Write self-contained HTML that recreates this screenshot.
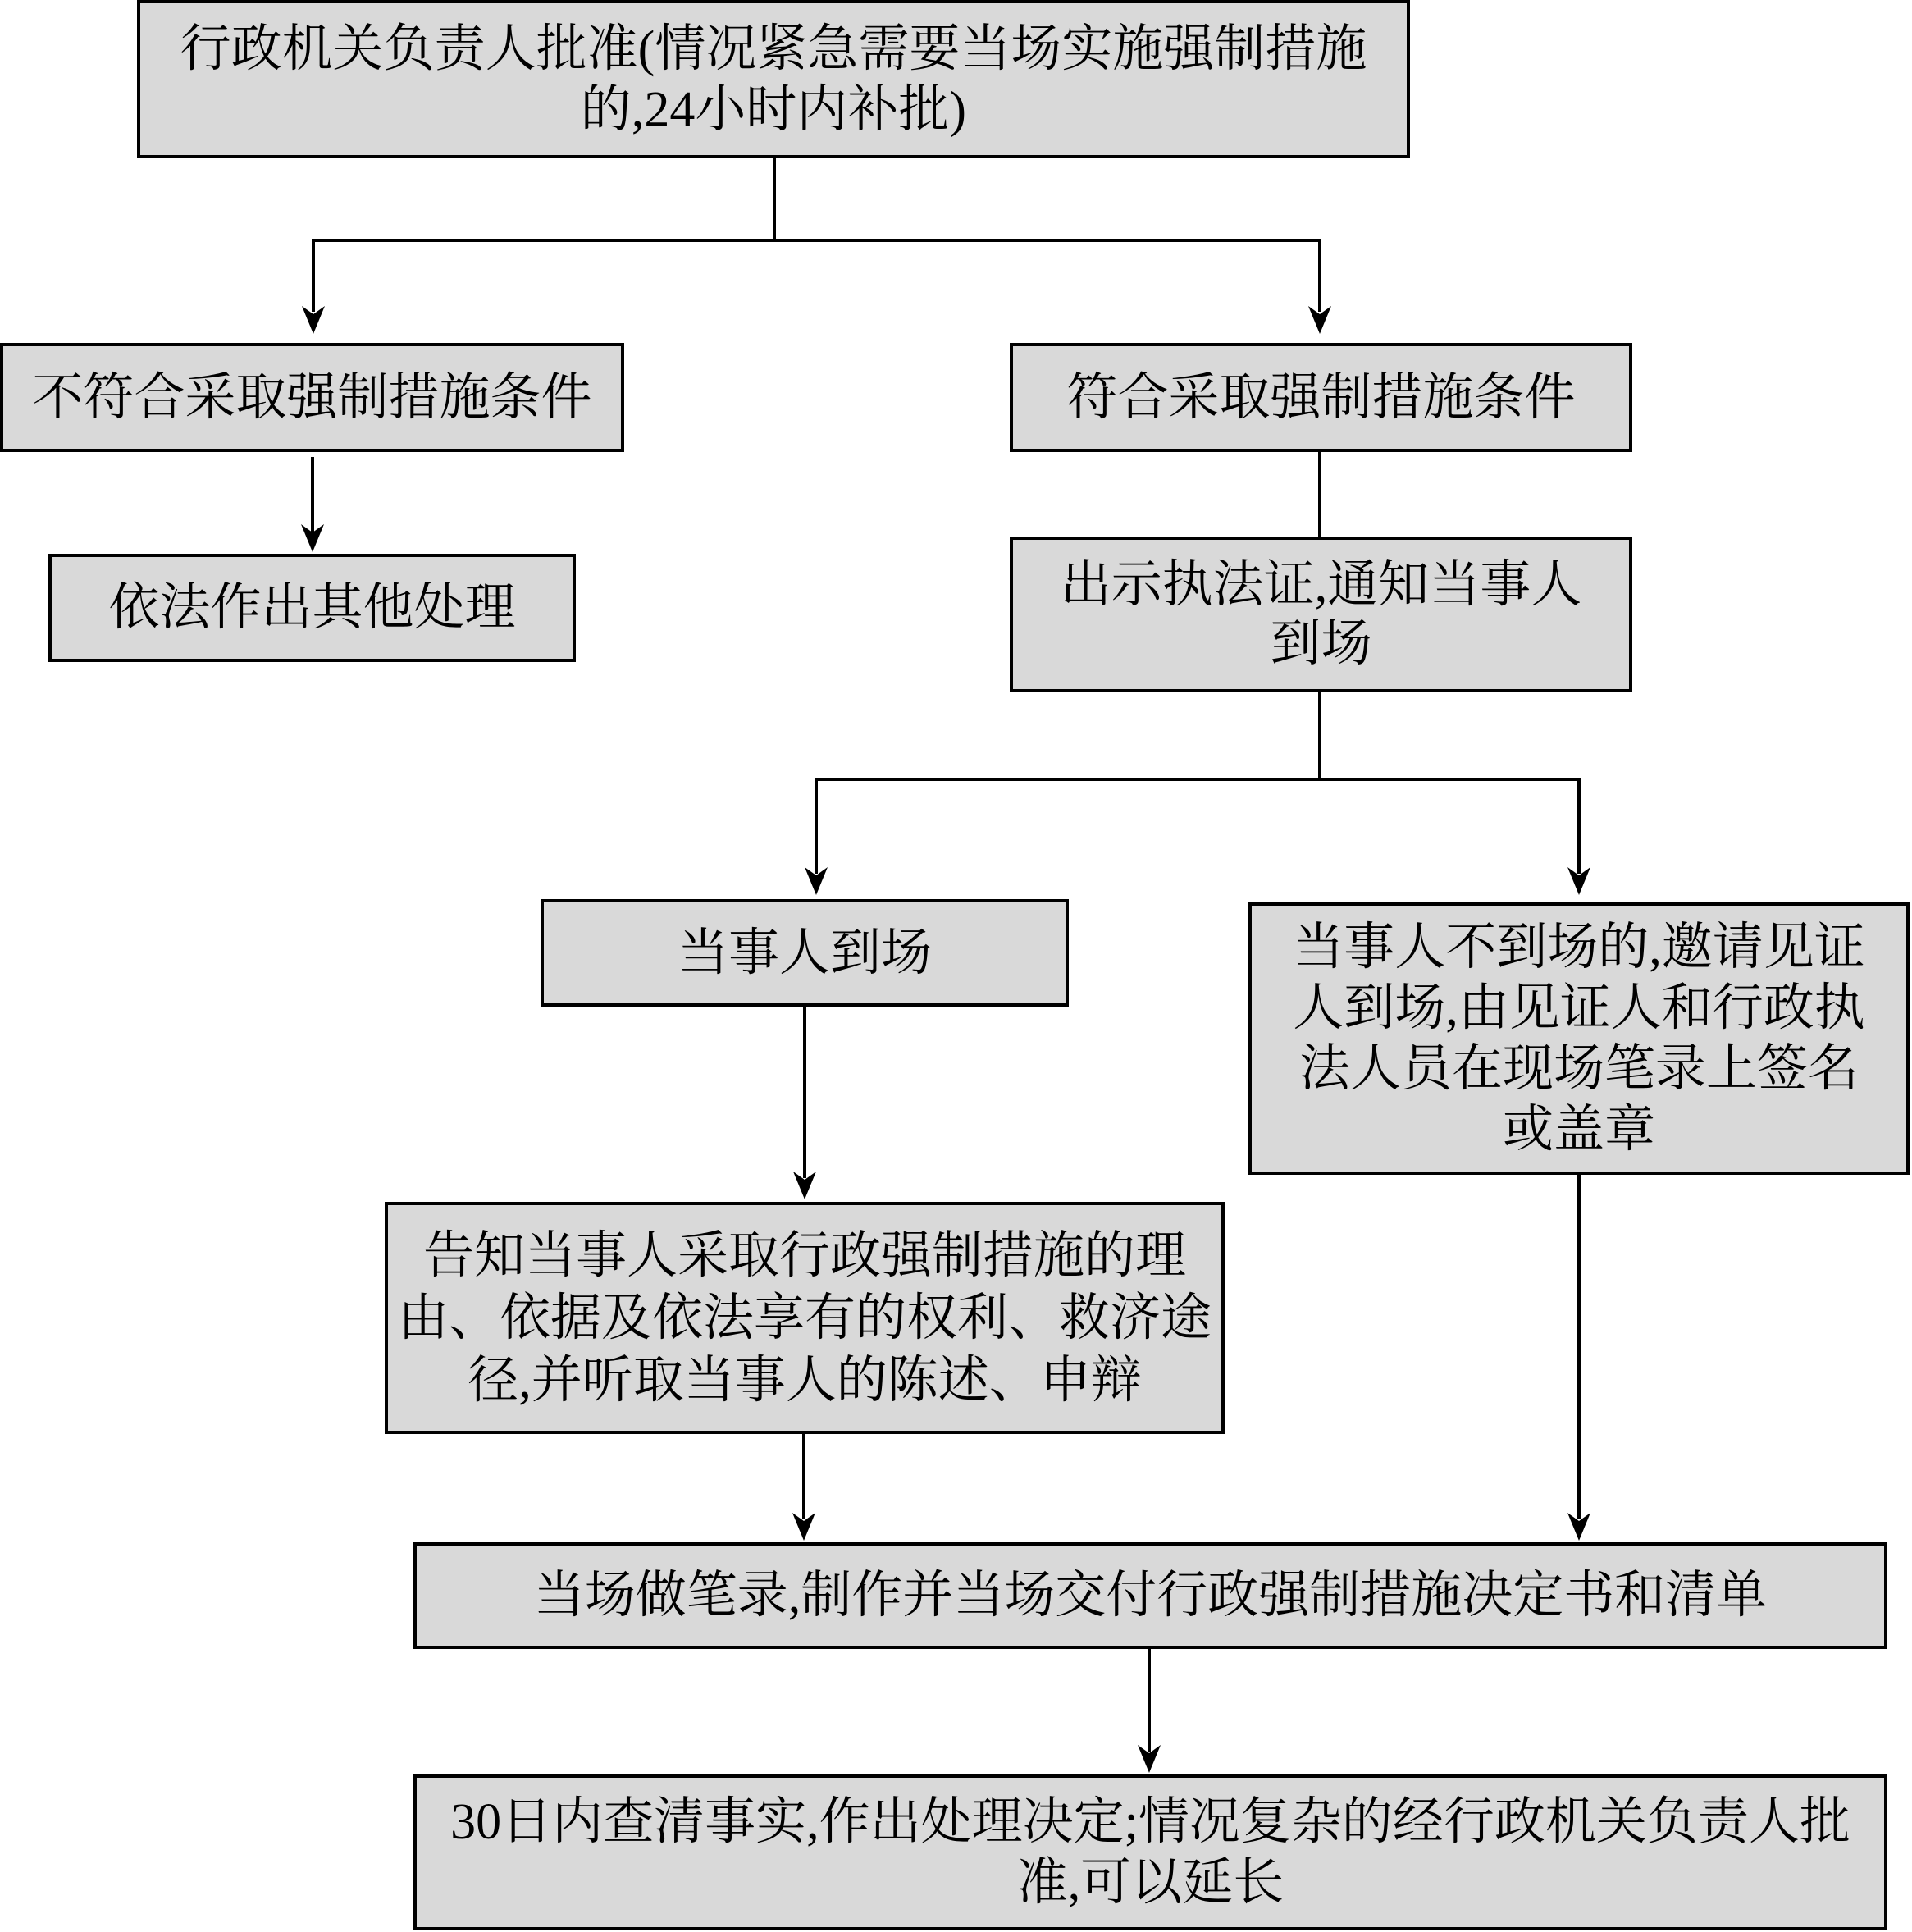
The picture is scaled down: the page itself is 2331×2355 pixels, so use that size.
<!DOCTYPE html>
<html>
<head>
<meta charset="utf-8">
<style>
html,body{margin:0;padding:0;background:#fff;}
body{width:2331px;height:2355px;position:relative;overflow:hidden;
font-family:"Liberation Serif","Noto Serif CJK SC","Noto Sans CJK SC",serif;color:#000;}
.b{position:absolute;box-sizing:border-box;border:4px solid #000;background:#d9d9d9;
display:flex;align-items:center;justify-content:center;text-align:center;
font-size:62px;line-height:74px;white-space:nowrap;}
svg{position:absolute;left:0;top:0;}
</style>
</head>
<body>
<svg width="2331" height="2355" viewBox="0 0 2331 2355">
<defs>
<marker id="ah" markerUnits="userSpaceOnUse" markerWidth="30" markerHeight="36" viewBox="-15 -35 30 36" refX="0" refY="0" orient="auto-start-reverse">
</marker>
</defs>
<g stroke="#000" stroke-width="4" fill="none">
<!-- top split -->
<line x1="944" y1="193" x2="944" y2="293"/>
<line x1="380" y1="293" x2="1611" y2="293"/>
<line x1="382" y1="293" x2="382" y2="380"/>
<line x1="1609" y1="293" x2="1609" y2="380"/>
<!-- 不符合 -> 依法 -->
<line x1="381" y1="557" x2="381" y2="648"/>
<!-- 符合 -> 出示 -->
<line x1="1609" y1="551" x2="1609" y2="654"/>
<!-- 出示 split -->
<line x1="1609" y1="844" x2="1609" y2="950"/>
<line x1="993" y1="950" x2="1927" y2="950"/>
<line x1="995" y1="950" x2="995" y2="1065"/>
<line x1="1925" y1="950" x2="1925" y2="1065"/>
<!-- 当事人到场 -> 告知 -->
<line x1="981" y1="1221" x2="981" y2="1436"/>
<!-- 告知 -> 笔录 -->
<line x1="980" y1="1748" x2="980" y2="1852"/>
<!-- 不到场 -> 笔录 -->
<line x1="1925" y1="1432" x2="1925" y2="1852"/>
<!-- 笔录 -> 30日 -->
<line x1="1401" y1="2007" x2="1401" y2="2135"/>
</g>
<g fill="#000">
<path d="M382 407 L368 373 L382 383 L396 373 Z"/>
<path d="M1609 407 L1595 373 L1609 383 L1623 373 Z"/>
<path d="M381 673 L367 639 L381 649 L395 639 Z"/>
<path d="M995 1091 L981 1057 L995 1067 L1009 1057 Z"/>
<path d="M1925 1091 L1911 1057 L1925 1067 L1939 1057 Z"/>
<path d="M981 1462 L967 1428 L981 1438 L995 1428 Z"/>
<path d="M980 1878 L966 1844 L980 1854 L994 1844 Z"/>
<path d="M1925 1878 L1911 1844 L1925 1854 L1939 1844 Z"/>
<path d="M1401 2161 L1387 2127 L1401 2137 L1415 2127 Z"/>
</g>
</svg>

<div class="b" style="left:167px;top:0px;width:1552px;height:193px;">行政机关负责人批准(情况紧急需要当场实施强制措施<br>的,24小时内补批)</div>

<div class="b" style="left:0px;top:418px;width:761px;height:133px;">不符合采取强制措施条件</div>

<div class="b" style="left:1231px;top:418px;width:759px;height:133px;">符合采取强制措施条件</div>

<div class="b" style="left:59px;top:675px;width:643px;height:132px;">依法作出其他处理</div>

<div class="b" style="left:1231px;top:654px;width:759px;height:190px;line-height:72px;">出示执法证,通知当事人<br>到场</div>

<div class="b" style="left:659px;top:1096px;width:644px;height:131px;">当事人到场</div>

<div class="b" style="left:1522px;top:1100px;width:806px;height:332px;">当事人不到场的,邀请见证<br>人到场,由见证人和行政执<br>法人员在现场笔录上签名<br>或盖章</div>

<div class="b" style="left:469px;top:1465px;width:1024px;height:283px;line-height:76px;">告知当事人采取行政强制措施的理<br>由、依据及依法享有的权利、救济途<br>径,并听取当事人的陈述、申辩</div>

<div class="b" style="left:504px;top:1880px;width:1797px;height:130px;">当场做笔录,制作并当场交付行政强制措施决定书和清单</div>

<div class="b" style="left:504px;top:2163px;width:1797px;height:190px;">30日内查清事实,作出处理决定;情况复杂的经行政机关负责人批<br>准,可以延长</div>
</body>
</html>
